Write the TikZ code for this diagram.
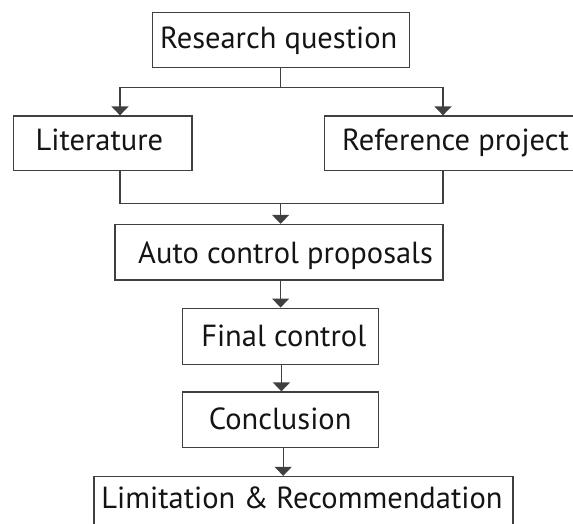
\documentclass[tikz,border=0pt]{standalone}
\usepackage{fontspec}
\setmainfont{PT Sans}
\usetikzlibrary{arrows.meta}
\begin{document}
\begin{tikzpicture}[x=1pt,y=-1pt,
  box/.style={draw=black!75, line width=1.3pt, rectangle, inner sep=0pt},
  lbl/.style={anchor=base, inner sep=0pt, text=black!92,
    font=\fontsize{30.5}{34}\selectfont},
  link/.style={draw=black!75, line width=1.3pt},
  arr/.style={link, -{Triangle[width=17pt,length=9pt]}}]
\useasboundingbox (0,0) rectangle (573,523);
\clip (0,0) rectangle (573,523);

% boxes
\node[box, minimum width=257pt, minimum height=55pt]   (rq)   at (281,40)      {};
\node[box, minimum width=178.5pt, minimum height=54.5pt] (lit)  at (102.7,143.25) {};
\node[box, minimum width=270pt, minimum height=54.5pt] (ref)  at (459.5,143.25) {};
\node[box, minimum width=328pt, minimum height=55.5pt] (auto) at (279,252.25)  {};
\node[box, minimum width=195.5pt, minimum height=56pt] (fin)  at (280.5,336.2)  {};
\node[box, minimum width=195.5pt, minimum height=55.3pt] (con) at (280.5,419.7) {};
\node[box, minimum width=419pt, minimum height=60pt]   (lim)  at (303.5,506.5)  {};

% labels
\node[lbl] (rqt)   at (278.7,48.5) {Research question};
\node[lbl] (litt)  at (99.4,150.5) {Literature};
\node[lbl] (reft)  at (455.5,150.5) {Reference project};
\node[lbl] (autot) at (285.6,263)  {Auto control proposals};
\node[lbl] (fint)  at (283.7,346)  {Final control};
\node[lbl] (cont)  at (280.2,429.5) {Conclusion};
\node[lbl] (limt)  at (302,508.5)  {Limitation \& Recommendation};

% junction points
\coordinate (split) at (280.6,87.3);
\coordinate (merge) at (280.6,203.3);

% connectors
\draw[link] (rq.south -| split) -- (split);
\draw[arr] (split) -| (lit.north -| 120,0);
\draw[arr] (split) -| (ref.north -| 443,0);
\draw[link] (lit.south -| 120,0) |- (merge);
\draw[link] (ref.south -| 443,0) |- (merge);
\draw[arr] (merge) -- (auto.north -| merge);
\draw[arr] (auto.south -| 280.6,0) -- (fin.north -| 280.6,0);
\draw[arr] (fin.south -| 281.4,0) -- (con.north -| 281.4,0);
\draw[arr] (con.south -| 283.2,0) -- (lim.north -| 283.2,0);
\end{tikzpicture}
\end{document}
